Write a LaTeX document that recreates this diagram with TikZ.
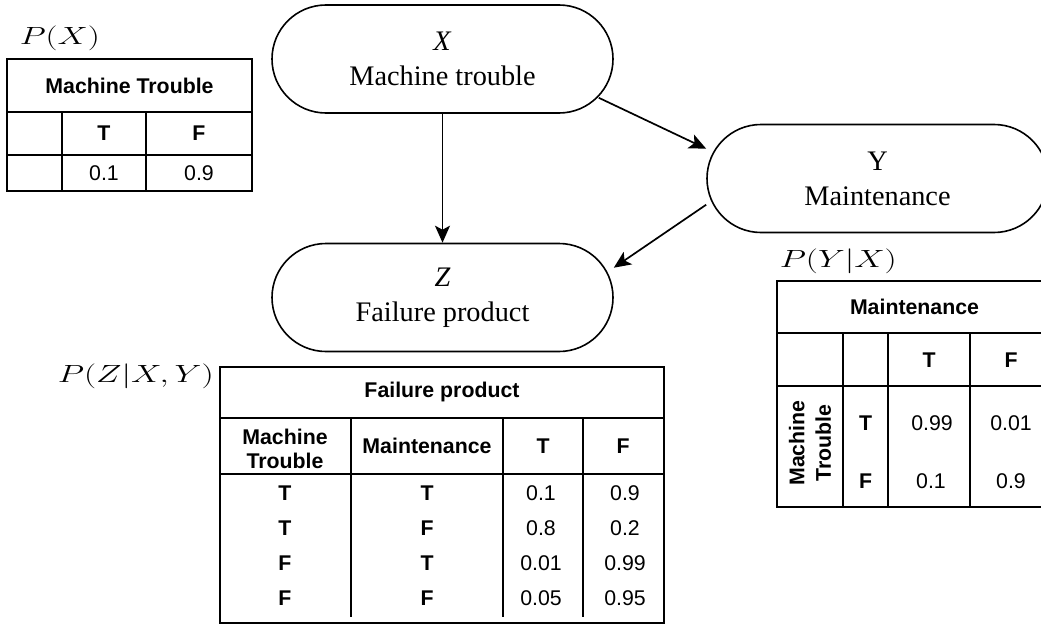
\documentclass[tikz,border=0pt]{standalone}
\usepackage{graphicx}
\usepackage{fontspec}
\setmainfont{Liberation Serif}
\setsansfont{Liberation Sans}
\usetikzlibrary{arrows.meta,calc}

\begin{document}
\begin{tikzpicture}[x=1pt,y=-1pt,
  line width=1.6pt,
  var/.style={draw, rectangle, rounded corners=54pt, minimum width=341pt,
    minimum height=108pt, align=center, inner sep=0pt,
    font=\fontsize{28.3}{35}\selectfont},
  link/.style={line width=1.7pt, -{Stealth[length=17pt,width=15pt,inset=4pt]}},
  cell/.style={inner sep=0pt, font=\fontsize{21.3}{25}\selectfont\sffamily},
  hd/.style={inner sep=0pt, align=center, font=\fontsize{21.3}{24}\selectfont\sffamily\bfseries},
  plabel/.style={anchor=west, inner sep=0pt, font=\fontsize{30}{36}\selectfont},
  grid/.style={line width=1.5pt}
]
\useasboundingbox (0,0) rectangle (1041,626);
\clip (0,0) rectangle (1041,626);

% ---- network nodes ----
\node[var] (xnode) at (442.5,59) {\textit{X}\\Machine trouble};
\node[var] (ynode) at (877.5,178.5) {Y\\Maintenance};
\node[var] (znode) at (442.5,297.5) {\textit{Z}\\Failure product};

\coordinate (xy0) at ($(xnode.south east)+(-15,-16)$);
\coordinate (xy1) at ($(ynode.north west)+(0,25)$);
\coordinate (yz0) at ($(ynode.north west)+(0,81)$);
\coordinate (yz1) at ($(znode.north east)+(0,25)$);

\draw[link] (xnode.south) -- (znode.north);
\draw[link] (xy0) -- (xy1);
\draw[link] (yz0) -- (yz1);

% ---- P(X) ----
\node[plabel] (px) at (19,38) {\resizebox{80pt}{\height}{$P(X)$}};
\draw[grid] (7,59) rectangle (252,191);
\draw[grid] (7,112) -- (252,112) (7,155) -- (252,155)
  (62,112) -- (62,191) (146,112) -- (146,191);
\node[hd] (pxh) at (129.5,85.5) {Machine Trouble};
\node[hd] (pxt) at (104,133.5) {T};
\node[hd] (pxf) at (199,133.5) {F};
\node[cell] (pxv1) at (104,173) {0.1};
\node[cell] (pxv2) at (199,173) {0.9};

% ---- P(Y|X) ----
\node[plabel] (py) at (779,261) {\resizebox{117pt}{\height}{$P(Y|X)$}};
\draw[grid] (777,281) rectangle (1052,507);
\draw[grid] (777,333) -- (1052,333) (777,386) -- (1052,386)
  (843,333) -- (843,507) (888,333) -- (888,507) (970,333) -- (970,507);
\node[hd] (pyh) at (914.5,307) {Maintenance};
\node[hd] (pyt) at (929,360) {T};
\node[hd] (pyf) at (1011,360) {F};
\node[hd, rotate=90, font=\fontsize{21.3}{26.6}\selectfont\sffamily\bfseries]
  (pyr) at (810,443) {Machine\\Trouble};
\node[hd] (pyrt) at (865.5,423) {T};
\node[hd] (pyrf) at (865.5,481) {F};
\node[cell] (pyv1) at (932,423) {0.99};
\node[cell] (pyv2) at (1011,423) {0.01};
\node[cell] (pyv3) at (931,481) {0.1};
\node[cell] (pyv4) at (1011,481) {0.9};

% ---- P(Z|X,Y) ----
\node[plabel] (pz) at (57,376) {\resizebox{156pt}{\height}{$P(Z|X,Y)$}};
\draw[grid] (220,367) rectangle (664,623);
\draw[grid] (220,418) -- (664,418) (220,474) -- (664,474)
  (351,418) -- (351,617) (503,418) -- (503,617) (583,418) -- (583,617);
\node[hd] (pzh) at (442,392) {Failure product};
\node[hd] (pzc1) at (285,449) {Machine\\Trouble};
\node[hd] (pzc2) at (427,446) {Maintenance};
\node[hd] (pzc3) at (543,446) {T};
\node[hd] (pzc4) at (623,446) {F};
\foreach \a/\b/\p/\q [count=\i] in {T/T/0.1/0.9, T/F/0.8/0.2, F/T/0.01/0.99, F/F/0.05/0.95}{
  \node[hd] (pza\i) at (285,{458+35*\i}) {\a};
  \node[hd] (pzb\i) at (427,{458+35*\i}) {\b};
  \node[cell] (pzp\i) at (541,{458+35*\i}) {\p};
  \node[cell] (pzq\i) at (625,{458+35*\i}) {\q};
}
\end{tikzpicture}
\end{document}
